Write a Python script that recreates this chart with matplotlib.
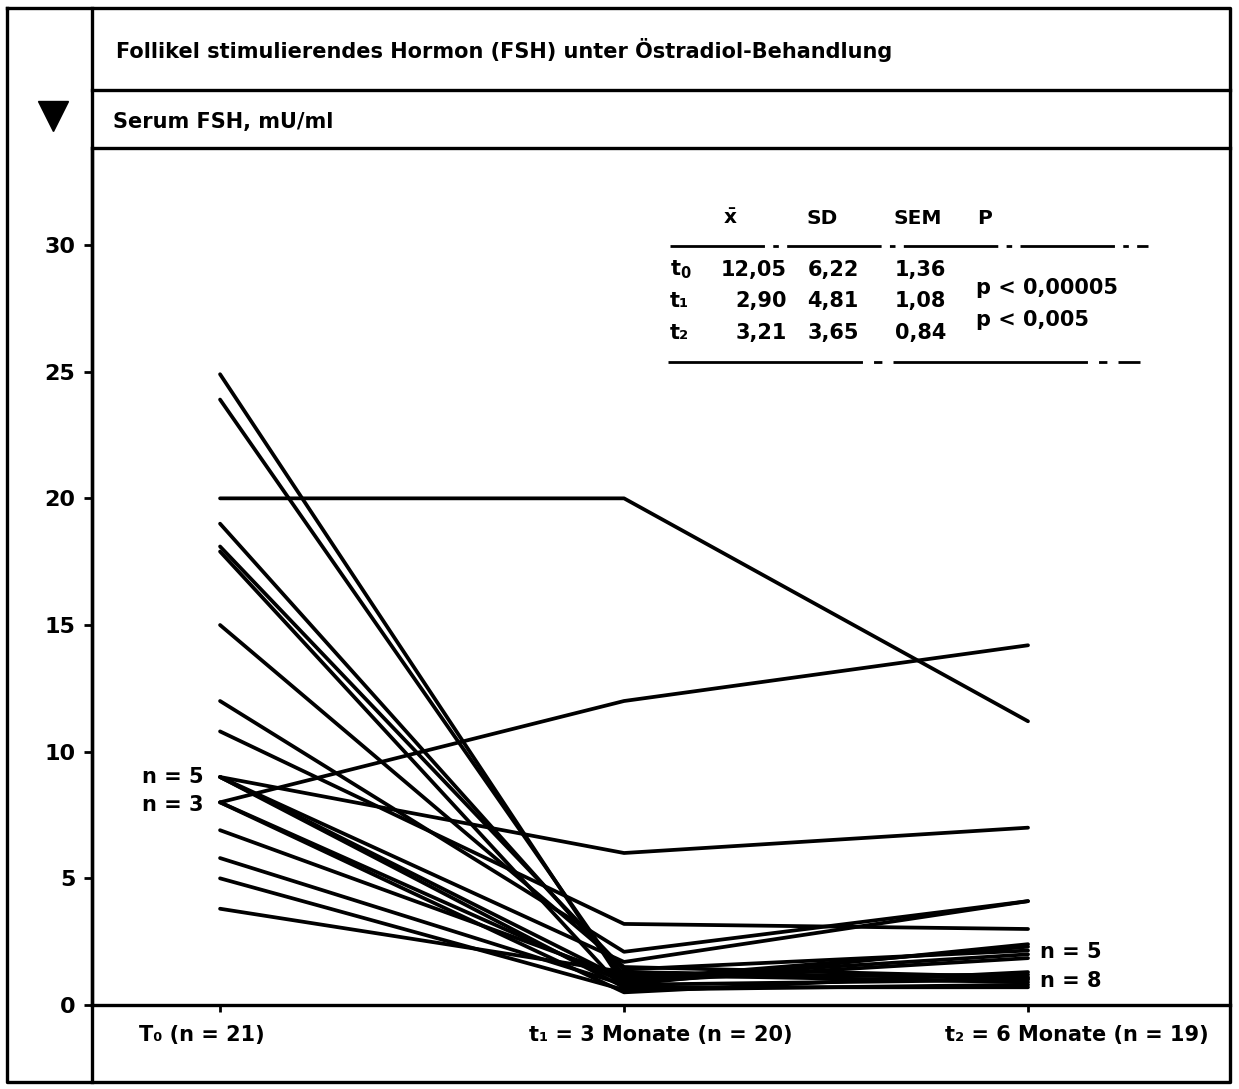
import matplotlib.pyplot as plt
import numpy as np

plt.rcParams['font.family'] = ['DejaVu Sans']
plt.rcParams['font.weight'] = 'bold'

# serum FSH (mU/ml) per patient: before treatment, after 3 and 6 months
# nan = no measurement at that time point
fsh_t0 = [24.9, 23.9, 20.0, 19.0, 18.1, 17.9, 15.0, 12.0, 10.8,
          9.0, 9.0, 9.0, 9.0, 9.0, 8.0, 8.0, 8.0, 6.9, 5.8, 5.0, 3.8]
fsh_t1 = [0.8, 1.0, 20.0, 1.2, 1.4, 0.6, 1.5, 2.1, 3.2,
          6.0, 1.7, 1.0, 0.7, np.nan, 12.0, 0.9, 0.5, 1.1, 0.8, 0.6, 1.3]
fsh_t2 = [1.0, 2.0, 11.2, 0.9, 2.15, 0.8, 1.1, 4.1, 3.0,
          7.0, 4.1, 2.3, 0.7, np.nan, 14.2, 1.85, 1.3, 1.2, 2.4, np.nan, 1.05]

time_labels = ['T₀ (n = 21)', 't₁ = 3 Monate (n = 20)', 't₂ = 6 Monate (n = 19)']
y_ticks = [0, 5, 10, 15, 20, 25, 30]

# summary table
stat_cols = ['$\\bar{\\mathbf{x}}$', 'SD', 'SEM', 'P']
stat_rows = ['t$_\\mathbf{0}$', 't₁', 't₂']
stat_mean = ['12,05', '2,90', '3,21']
stat_sd = ['6,22', '4,81', '3,65']
stat_sem = ['1,36', '1,08', '0,84']
stat_p = ['p < 0,00005', 'p < 0,005']

title = 'Follikel stimulierendes Hormon (FSH) unter Östradiol-Behandlung'
ylabel = 'Serum FSH, mU/ml'

W, H = 1239, 1089
fig = plt.figure(figsize=(W / 100, H / 100), dpi=100)

# pixel-space layer for the frame, header rows and the table
frame = fig.add_axes([0, 0, 1, 1])
frame.set_xlim(0, W)
frame.set_ylim(H, 0)
frame.axis('off')

lw_frame = 2.4
frame.plot([7, 1230, 1230, 7, 7], [8, 8, 1082, 1082, 8], color='k', lw=lw_frame)
frame.plot([92, 92], [8, 1082], color='k', lw=lw_frame)
frame.plot([92, 1230], [90, 90], color='k', lw=lw_frame)
frame.plot([92, 1230], [148, 148], color='k', lw=lw_frame)
frame.plot([53], [116], marker='v', ms=22, color='k')

frame.text(116, 50, title, fontsize=15, va='center', ha='left')
frame.text(113, 122, ylabel, fontsize=15, va='center', ha='left')

# statistics block
col_x = [730, 822, 918, 985]
for x, lab in zip(col_x, stat_cols):
    frame.text(x, 218, lab, fontsize=14.5, ha='center', va='center')
frame.plot([670, 1148], [246, 246], color='k', lw=2, linestyle=(0, (34, 3, 2, 3)))
frame.plot([668, 1140], [362, 362], color='k', lw=2, linestyle=(0, (70, 4, 3, 4)))
row_y = [270, 301, 333]
for y, r, m, s, e in zip(row_y, stat_rows, stat_mean, stat_sd, stat_sem):
    frame.text(670, y, r, fontsize=15, ha='left', va='center')
    frame.text(787, y, m, fontsize=15, ha='right', va='center')
    frame.text(859, y, s, fontsize=15, ha='right', va='center')
    frame.text(946, y, e, fontsize=15, ha='right', va='center')
for y, p in zip([288, 320], stat_p):
    frame.text(976, y, p, fontsize=15, ha='left', va='center')

# main plot area
ax = fig.add_axes([92 / W, (H - 1005) / H, (1230 - 92) / W, (1005 - 148) / H])
ax.patch.set_alpha(0)
x = [0, 1, 2]
for a, b, c in zip(fsh_t0, fsh_t1, fsh_t2):
    ax.plot(x, [a, b, c], color='k', lw=2.7, solid_capstyle='round')

ax.set_xlim(-0.317, 2.5)
ax.set_ylim(0, 33.83)
ax.set_yticks(y_ticks)
ax.set_yticklabels([str(t) for t in y_ticks], fontsize=16)
ax.set_xticks(x)
ax.set_xticklabels([])
ax.tick_params(axis='y', direction='out', length=6, width=2, pad=6)
ax.tick_params(axis='x', direction='out', length=5, width=2)
for side in ['top', 'right']:
    ax.spines[side].set_visible(False)
for side in ['left', 'bottom']:
    ax.spines[side].set_linewidth(lw_frame)

label_x = [-0.2, 0.765, 1.795]
for lx, lab in zip(label_x, time_labels):
    ax.text(lx, -0.035, lab, transform=ax.get_xaxis_transform(),
            fontsize=15, ha='left', va='center')

# group counts where several patients share a value
ax.text(-0.04, 9.0, 'n = 5', fontsize=15, ha='right', va='center')
ax.text(-0.04, 7.9, 'n = 3', fontsize=15, ha='right', va='center')
ax.text(2.03, 2.1, 'n = 5', fontsize=15, ha='left', va='center')
ax.text(2.03, 0.95, 'n = 8', fontsize=15, ha='left', va='center')

fig.savefig('out.png', dpi=100)
